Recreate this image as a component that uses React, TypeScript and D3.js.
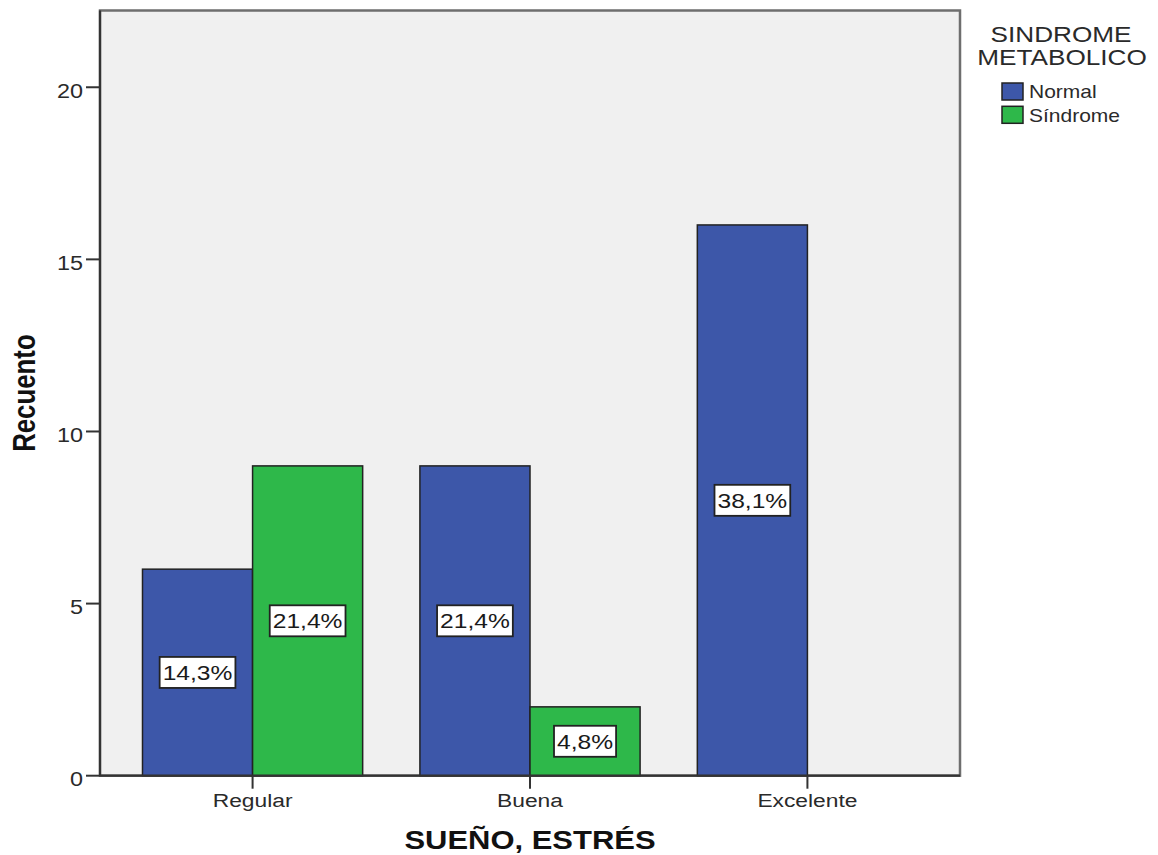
import React from "react";
import * as d3 from "d3";

// Counts per sleep/stress category, split by metabolic-syndrome status
const categories = ["Regular", "Buena", "Excelente"];
const seriesNames = ["Normal", "Síndrome"];
const normalCounts = [6, 9, 16];
const sindromeCounts = [9, 2, 0];
const yTicks = [0, 5, 10, 15, 20];
const seriesColors = ["#3d57a9", "#2eb84a"];

const W = 1158;
const H = 855;
const plot = { left: 100, right: 960, top: 10.5, bottom: 775.7 };
const SX = 1.2; // horizontal widening of all type
const FONT = "'Liberation Sans', Arial, sans-serif";

function measure(text: string, size: number, weight = "normal") {
  const c = document.createElement("canvas").getContext("2d");
  if (!c) return text.length * size * 0.55;
  c.font = `${weight} ${size}px 'Liberation Sans', Arial, sans-serif`;
  return c.measureText(text).width;
}

function SText(props: {
  x: number;
  y: number;
  text: string;
  size: number;
  anchor?: string;
  weight?: string;
  fill?: string;
  rotate?: boolean;
}) {
  const { x, y, text, size, anchor = "start", weight = "normal", fill = "#222", rotate } = props;
  const t = rotate
    ? `translate(${x},${y}) rotate(-90) scale(1,${SX})`
    : `translate(${x},${y}) scale(${SX},1)`;
  return (
    <text
      transform={t}
      textAnchor={anchor}
      fontFamily={FONT}
      fontSize={size}
      fontWeight={weight}
      fill={fill}
    >
      {text}
    </text>
  );
}

export default function App() {
  const rows = categories.map((c, i) => ({
    category: c,
    values: [normalCounts[i], sindromeCounts[i]],
  }));
  const total = d3.sum(normalCounts) + d3.sum(sindromeCounts);

  const x0 = d3
    .scaleBand<string>()
    .domain(categories)
    .range([plot.left, plot.right])
    .paddingInner(0)
    .paddingOuter(0.05);
  const x1 = d3
    .scaleBand<string>()
    .domain(seriesNames)
    .range([0, x0.bandwidth()])
    .paddingInner(0)
    .paddingOuter(0.26);
  const y = d3.scaleLinear().domain([0, 22.23]).range([plot.bottom, plot.top]);

  const labelSize = 20.5;
  const bars: any[] = [];
  const labels: any[] = [];
  rows.forEach((r) => {
    r.values.forEach((v, si) => {
      if (v <= 0) return;
      const bx = (x0(r.category) as number) + (x1(seriesNames[si]) as number);
      const bw = x1.bandwidth();
      const top = y(v);
      bars.push(
        <rect
          key={`b-${r.category}-${si}`}
          x={bx}
          y={top}
          width={bw}
          height={y(0) - top}
          fill={seriesColors[si]}
          stroke="#222"
          strokeWidth={1.5}
        />
      );
      const txt = ((v / total) * 100).toFixed(1).replace(".", ",") + "%";
      const cx = bx + bw / 2;
      const cy = y(v / 2);
      const tw = measure(txt, labelSize) * SX + 6;
      const th = 31;
      labels.push(
        <g key={`l-${r.category}-${si}`}>
          <rect
            x={cx - tw / 2}
            y={cy - th / 2}
            width={tw}
            height={th}
            fill="#ffffff"
            stroke="#222"
            strokeWidth={1.8}
          />
          <SText x={cx} y={cy + 7.5} text={txt} size={labelSize} anchor="middle" fill="#1a1a1a" />
        </g>
      );
    });
  });

  return (
    <svg
      width={W}
      height={H}
      style={{ position: "absolute", left: 0, top: 0, display: "block", background: "#ffffff" }}
    >
      {/* plot frame */}
      <rect
        x={plot.left}
        y={plot.top}
        width={plot.right - plot.left}
        height={plot.bottom - plot.top}
        fill="#f0f0f0"
        stroke="#6e6e6e"
        strokeWidth={2.5}
      />
      {bars}
      {labels}

      {/* y axis */}
      <line x1={plot.left} x2={plot.left} y1={plot.top} y2={plot.bottom} stroke="#333" strokeWidth={2.2} />
      {yTicks.map((t) => (
        <g key={`yt-${t}`}>
          <line x1={plot.left - 14} x2={plot.left} y1={y(t)} y2={y(t)} stroke="#333" strokeWidth={2} />
          <SText x={plot.left - 17} y={y(t) + 10.5} text={String(t)} size={19.5} anchor="end" fill="#2a2a2a" />
        </g>
      ))}

      {/* x axis */}
      <line x1={plot.left} x2={plot.right} y1={plot.bottom} y2={plot.bottom} stroke="#333" strokeWidth={2.2} />
      {categories.map((c) => {
        const cx = (x0(c) as number) + x0.bandwidth() / 2;
        return (
          <g key={`xt-${c}`}>
            <line x1={cx} x2={cx} y1={plot.bottom} y2={plot.bottom + 13} stroke="#333" strokeWidth={2} />
            <SText x={cx} y={plot.bottom + 31} text={c} size={19} anchor="middle" fill="#2a2a2a" />
          </g>
        );
      })}

      {/* axis titles */}
      <SText
        x={(plot.left + plot.right) / 2}
        y={849}
        text="SUEÑO, ESTRÉS"
        size={25.8}
        weight="bold"
        anchor="middle"
        fill="#111"
      />
      <SText
        x={35}
        y={(plot.top + plot.bottom) / 2}
        text="Recuento"
        size={25.8}
        weight="bold"
        anchor="middle"
        fill="#111"
        rotate
      />

      {/* legend */}
      <SText x={1061} y={41.5} text="SINDROME" size={21.8} anchor="middle" fill="#2a2a2a" />
      <SText x={1062} y={65} text="METABOLICO" size={21.8} anchor="middle" fill="#2a2a2a" />
      {seriesNames.map((s, i) => (
        <g key={`lg-${s}`}>
          <rect
            x={1002}
            y={83 + i * 23.3}
            width={21}
            height={17}
            fill={seriesColors[i]}
            stroke="#222"
            strokeWidth={1.5}
          />
          <SText x={1029} y={98.3 + i * 23.3} text={s} size={17.5} fill="#2a2a2a" />
        </g>
      ))}
    </svg>
  );
}
